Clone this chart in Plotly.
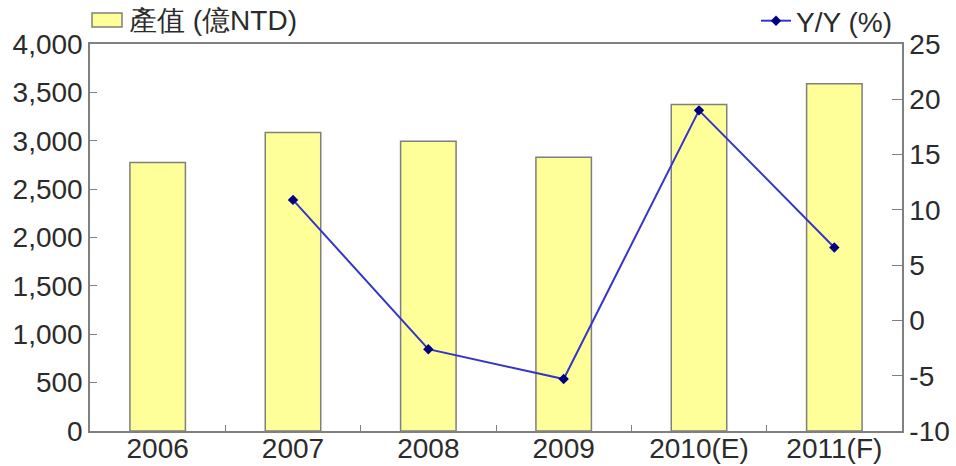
import plotly.graph_objects as go

categories = ["2006", "2007", "2008", "2009", "2010(E)", "2011(F)"]
output_value = [2775, 3085, 2995, 2830, 3375, 3590]
yoy_pct = [None, 10.9, -2.6, -5.3, 19.0, 6.6]
y2_tickvals = [-10, -5, 0, 5, 10, 15, 20, 25]
y2_ticktext = ["-10", "-5", "0", "5", "10", "15", "20", "25"]

font_family = "Arial, 'Liberation Sans', sans-serif"
text_color = "#2b2b2b"
axis_color = "#808080"
fs = 28

fig = go.Figure()
fig.add_trace(go.Bar(
    x=categories, y=output_value, name="產值 (億NTD)",
    marker=dict(color="#FFFF99", line=dict(color="#7f7f7f", width=1.5)),
    showlegend=False,
))
fig.add_trace(go.Scatter(
    x=categories, y=yoy_pct, name="Y/Y (%)", yaxis="y2",
    mode="lines+markers",
    line=dict(color="#3535C8", width=2),
    marker=dict(symbol="diamond", size=8, color="#000080"),
    legend="legend2",
))

# legend swatch + label for bars
fig.add_shape(type="rect", xref="paper", yref="paper",
              x0=(92 - 90) / 812, x1=(122 - 90) / 812,
              y0=1 + (44 - 27) / 387, y1=1 + (44 - 13) / 387,
              fillcolor="#FFFF99", line=dict(color="#7f7f7f", width=1.5))
fig.add_annotation(text="產值 (億NTD)", xref="paper", yref="paper",
                   x=(127 - 90) / 812, y=1 + (44 - 21) / 387,
                   xanchor="left", yanchor="middle", showarrow=False,
                   font=dict(size=fs, color=text_color))

fig.update_layout(
    width=956, height=466,
    margin=dict(l=90, r=54, t=44, b=35, autoexpand=False),
    paper_bgcolor="white", plot_bgcolor="white",
    font=dict(family=font_family, size=fs, color=text_color),
    bargap=0.59,
    showlegend=True,
    legend2=dict(x=756 / 956, y=1 - 21 / 466, xref="container", yref="container",
                 xanchor="left", yanchor="middle",
                 font=dict(size=fs, color=text_color), bgcolor="rgba(0,0,0,0)",
                 itemwidth=30),
    xaxis=dict(
        showline=True, linecolor=axis_color, linewidth=1.5, mirror=True,
        ticks="inside", tickson="boundaries", ticklen=6, tickcolor=axis_color,
        ticklabelstandoff=-8,
        showgrid=False, tickfont=dict(size=fs, color=text_color),
    ),
    yaxis=dict(
        range=[0, 4000], dtick=500, tickformat=",",
        showline=True, linecolor=axis_color, linewidth=1.5, mirror=True,
        ticks="inside", ticklen=7, tickcolor=axis_color,
        showgrid=False, zeroline=False, tickfont=dict(size=fs, color=text_color),
    ),
    yaxis2=dict(
        range=[-10, 25], tickvals=y2_tickvals, ticktext=y2_ticktext,
        overlaying="y", side="right",
        showline=True, linecolor=axis_color, linewidth=1.5,
        ticks="inside", ticklen=10, tickcolor=axis_color,
        showgrid=False, zeroline=False, tickfont=dict(size=fs, color=text_color),
    ),
)

fig.write_html("out.html")
